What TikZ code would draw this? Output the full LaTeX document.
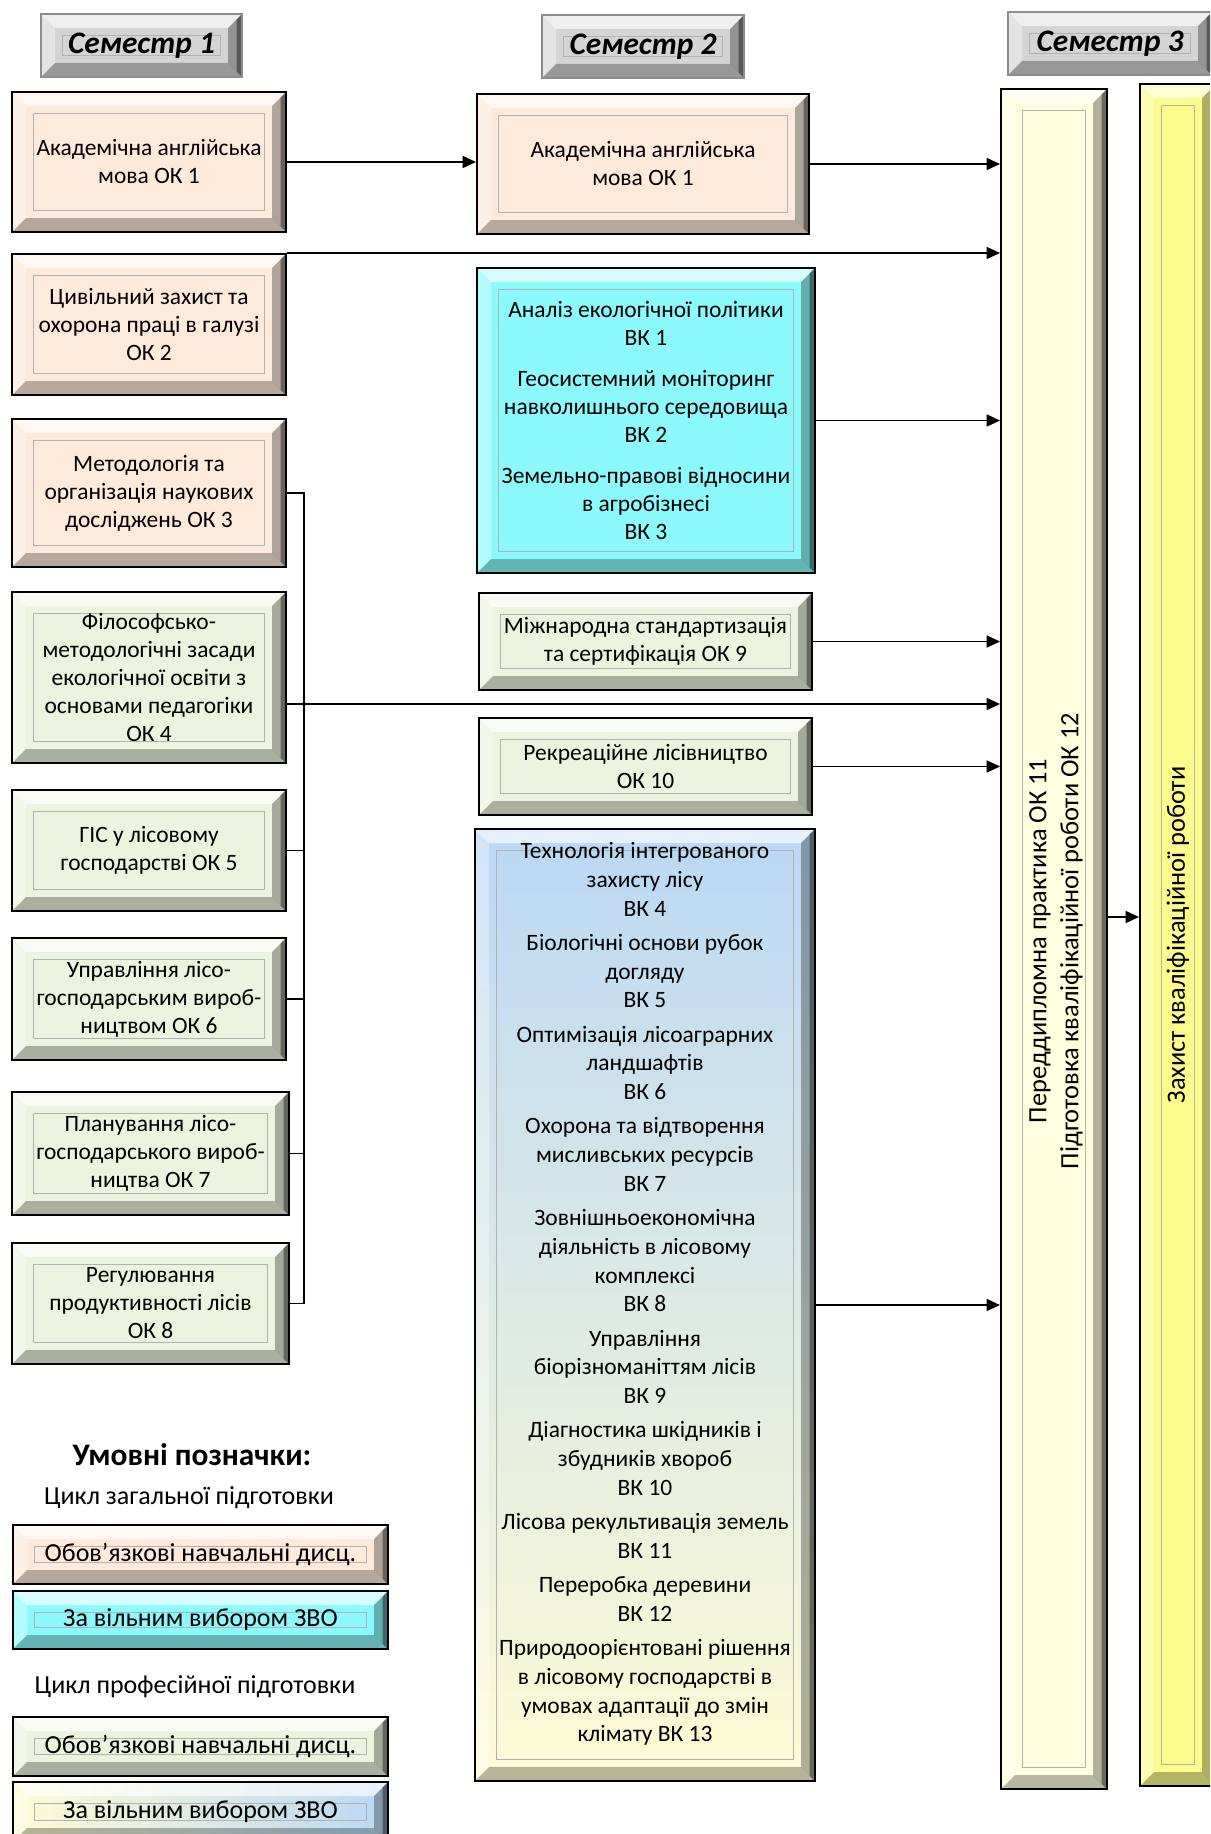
\documentclass[tikz,border=0pt]{standalone}
\usepackage{fontspec}
\setmainfont{Carlito}
\usepackage{tikz}
\usetikzlibrary{arrows.meta, calc, positioning}

\definecolor{peach}{RGB}{253,234,218}
\definecolor{sage}{RGB}{235,244,222}
\definecolor{aqua}{RGB}{140,250,252}
\definecolor{skyb}{RGB}{186,216,245}
\definecolor{cream}{RGB}{255,251,212}
\definecolor{paley}{RGB}{255,254,222}
\definecolor{lemon}{RGB}{253,251,140}
\definecolor{hdrgray}{RGB}{212,212,212}

\def\bevw{10.5pt}
\def\bevi{16pt}

\tikzset{
  bevel/.style={draw=black, line width=1.5pt, align=center, inner sep=2pt,
    path picture={
      \path (path picture bounding box.north west) coordinate (pNW)
            (path picture bounding box.north east) coordinate (pNE)
            (path picture bounding box.south east) coordinate (pSE)
            (path picture bounding box.south west) coordinate (pSW);
      \fill[white,opacity=.65] (pNW) -- (pNE) -- ([shift={(-\bevw,-\bevw)}]pNE) -- ([shift={(\bevw,-\bevw)}]pNW) -- cycle;
      \fill[white,opacity=.35] (pNW) -- ([shift={(\bevw,-\bevw)}]pNW) -- ([shift={(\bevw,\bevw)}]pSW) -- (pSW) -- cycle;
      \fill[black,opacity=.28] (pSW) -- ([shift={(\bevw,\bevw)}]pSW) -- ([shift={(-\bevw,\bevw)}]pSE) -- (pSE) -- cycle;
      \fill[black,opacity=.3] (pNE) -- (pSE) -- ([shift={(-\bevw,\bevw)}]pSE) -- ([shift={(-\bevw,-\bevw)}]pNE) -- cycle;
      \fill[black,opacity=.4] (pNE) -- (pSE) -- ([shift={(-4pt,4pt)}]pSE) -- ([shift={(-4pt,-4pt)}]pNE) -- cycle;
      \draw[black!30,line width=.6pt] ([shift={(\bevi,-\bevi)}]pNW) rectangle ([shift={(-\bevi,\bevi)}]pSE);
    }},
  sz/.style 2 args={minimum width=#1*.75pt, minimum height=#2*.75pt},
  gen/.style={bevel, fill=peach},
  genv/.style={bevel, fill=aqua},
  prof/.style={bevel, fill=sage},
  profv/.style={bevel, top color=skyb, bottom color=cream},
  profh/.style={bevel, left color=cream, right color=skyb},
  hdr/.style={bevel, draw=black!45, fill=hdrgray, font=\bfseries\itshape\fontsize{23.5}{27}\selectfont},
  legtxt/.style={font=\fontsize{19.5}{23}\selectfont},
  vtxt/.style={rotate=90, align=center, font=\fontsize{19.8}{24}\selectfont},
  arr/.style={-{Triangle[length=10pt,width=9pt]}, line width=1.1pt},
  line/.style={line width=1.1pt}
}

\begin{document}
\begin{tikzpicture}[x=.75pt, y=-.75pt, font=\fontsize{17.6}{21}\selectfont]
\useasboundingbox (0,0) rectangle (1210,1834);
\clip (0,0) rectangle (1210,1834);

% semesters
\node[hdr, sz={201}{63}] (sem1) at (141.5,45.5) {Семестр 1};
\node[hdr, sz={202}{63}] (sem2) at (643,46.5) {Семестр 2};
\node[hdr, sz={204}{63}] (sem3) at (1110,43.5) {Семестр 3};

% semester 1
\node[gen, sz={274}{140}] (ok1) at (149,162) {Академічна англійська\\мова ОК 1};
\node[gen, sz={274}{141}] (ok2) at (149,324.5) {Цивільний захист та\\охорона праці в галузі\\ОК 2};
\node[gen, sz={274}{148}] (ok3) at (149,493) {Методологія та\\організація наукових\\досліджень ОК 3};
\node[prof, sz={274}{171}] (ok4) at (149,677.5) {Філософсько-\\методологічні засади\\екологічної освіти з\\основами педагогіки\\ОК 4};
\node[prof, sz={274}{121}] (ok5) at (149,850.5) {ГІС у лісовому\\господарстві ОК 5};
\node[prof, sz={274}{122}] (ok6) at (149,999) {Управління лісо-\\господарським вироб-\\ництвом ОК 6};
\node[prof, sz={277}{123}] (ok7) at (150.5,1153.5) {Планування лісо-\\господарського вироб-\\ництва ОК 7};
\node[prof, sz={277}{121}] (ok8) at (150.5,1303.5) {Регулювання\\продуктивності лісів\\ОК 8};

% semester 2
\node[gen, sz={332}{140}] (ok1b) at (643,164) {Академічна англійська\\мова ОК 1};
\node[genv, sz={338}{305}] (vk1) at (646,420.5) {Аналіз екологічної політики\\ВК 1\\[10pt]Геосистемний моніторинг\\навколишнього середовища\\ВК 2\\[10pt]Земельно-правові відносини\\в агробізнесі\\ВК 3};
\node[prof, sz={333}{97}] (ok9) at (645.5,641.5) {Міжнародна стандартизація\\та сертифікація ОК 9};
\node[prof, sz={333}{97}] (ok10) at (645.5,766.5) {Рекреаційне лісівництво\\ОК 10};
\node[profv, sz={340}{952}] (vk4) at (645,1305) {};
\node[font=\fontsize{17.6}{21.6}\selectfont, align=center] (vk4t) at (645,1294) {Технологія інтегрованого\\захисту лісу\\ВК 4\\[4pt]Біологічні основи рубок\\догляду\\ВК 5\\[4pt]Оптимізація лісоаграрних\\ландшафтів\\ВК 6\\[4pt]Охорона та відтворення\\мисливських ресурсів\\ВК 7\\[4pt]Зовнішньоекономічна\\діяльність в лісовому\\комплексі\\ВК 8\\[4pt]Управління\\біорізноманіттям лісів\\ВК 9\\[4pt]Діагностика шкідників і\\збудників хвороб\\ВК 10\\[4pt]Лісова рекультивація земель\\ВК 11\\[4pt]Переробка деревини\\ВК 12\\[4pt]Природоорієнтовані рішення\\в лісовому господарстві в\\умовах адаптації до змін\\клімату ВК 13};

% semester 3
\node[bevel, fill=paley, sz={106}{1700}] (prak) at (1054,939) {};
\node[vtxt] (prakt) at (1056,941) {Переддипломна практика ОК 11\\Підготовка кваліфікаційної роботи ОК 12};
\node[bevel, fill=lemon, sz={76}{1702}] (zah) at (1178,935) {};
\node[vtxt] (zaht) at (zah) {Захист кваліфікаційної роботи};

% arrows
\coordinate (ok4o) at ($(ok4.east)+(0,26.5)$);
\coordinate (prako) at ($(prak.east)+(0,-22)$);
\draw[arr] (ok1.east) -- (ok1.east -| ok1b.west);
\draw[arr] (ok1b.east) -- (ok1b.east -| prak.west);
\draw[arr] (ok2.north east) -- (ok2.north east -| prak.west);
\draw[arr] (vk1.east) -- (vk1.east -| prak.west);
\draw[arr] (ok9.east) -- (ok9.east -| prak.west);
\draw[arr] (ok4o) -- (ok4o -| prak.west);
\draw[arr] (ok10.east) -- (ok10.east -| prak.west);
\draw[arr] (vk4.east) -- (vk4.east -| prak.west);
\draw[arr] (prako) -- (prako -| zah.west);

% bracket
\coordinate (brk) at (304,0);
\draw[line] (ok3.east) -- (ok3.east -| brk) -- (ok8.east -| brk) -- (ok8.east);
\foreach \n in {ok5,ok6,ok7}
  \draw[line] (\n.east) -- (\n.east -| brk);

% legend
\node[font=\bfseries\fontsize{23.5}{27}\selectfont] (legt) at (192,1455) {Умовні позначки:};
\node[legtxt] (cyc1) at (189,1498) {Цикл загальної підготовки};
\node[gen, legtxt, sz={375}{59}] (leg1) at (200.5,1554.5) {Обов’язкові навчальні дисц.};
\node[genv, legtxt, sz={375}{58}] (leg2) at (200.5,1620) {За вільним вибором ЗВО};
\node[legtxt] (cyc2) at (195,1687) {Цикл професійної підготовки};
\node[prof, legtxt, sz={375}{59}] (leg3) at (200.5,1746.5) {Обов’язкові навчальні дисц.};
\node[profh, legtxt, sz={375}{60}] (leg4) at (200.5,1812) {За вільним вибором ЗВО};
\end{tikzpicture}
\end{document}
